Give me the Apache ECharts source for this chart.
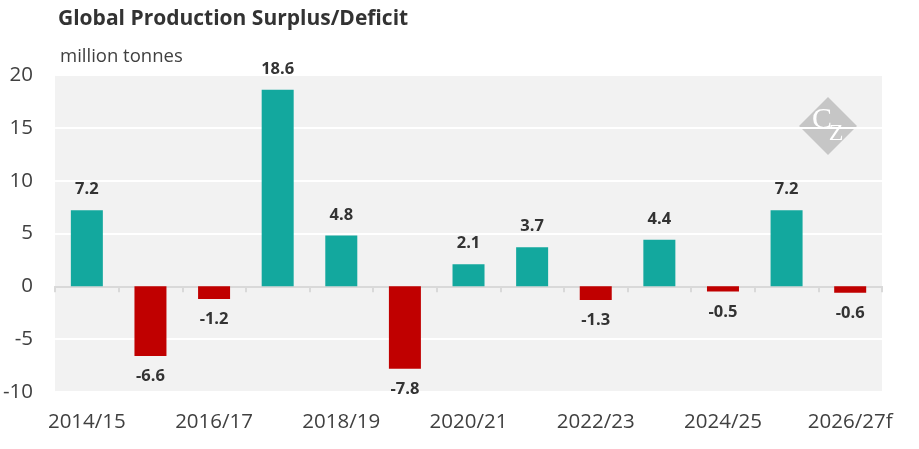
<!DOCTYPE html>
<html>
<head>
    <meta charset="utf-8">
    <title>Global Production Surplus/Deficit</title>
    <script src="https://cdn.jsdelivr.net/npm/echarts@6/dist/echarts.min.js"></script>
    <style>
        html, body { margin: 0; padding: 0; background: #fff; }
        #main { width: 919px; height: 449px; }
    </style>
</head>
<body>
    <div id="main"></div>
    <script>
        var seasons = ['2014/15', '2015/16', '2016/17', '2017/18', '2018/19', '2019/20', '2020/21',
                       '2021/22', '2022/23', '2023/24', '2024/25', '2025/26', '2026/27f'];
        var surplus = [7.2, -6.6, -1.2, 18.6, 4.8, -7.8, 2.1, 3.7, -1.3, 4.4, -0.5, 7.2, -0.6];
        var yTicks = [-10, -5, 0, 5, 10, 15, 20];

        var font = '"Open Sans", "Noto Sans", sans-serif';
        var myChart = echarts.init(document.getElementById('main'));

        var option = {
            animation: false,
            title: {
                text: 'Global Production Surplus/Deficit',
                left: 53, top: 4,
                textStyle: { fontFamily: font, fontSize: 21, fontWeight: 'bold', color: '#333' }
            },
            graphic: [
                {
                    type: 'text', left: 60, top: 47,
                    style: { text: 'million tonnes', fontFamily: font, fontSize: 18.5, fill: '#404040' }
                },
                {
                    type: 'rect', x: 828, y: 126, rotation: Math.PI / 4, z: 0,
                    shape: { x: -20.5, y: -20.5, width: 41, height: 41 },
                    style: { fill: '#c6c6c6' }
                },
                {
                    type: 'text', x: 822, y: 120, z: 1,
                    style: { text: 'C', fontFamily: '"Liberation Serif", serif', fontSize: 30,
                             fill: '#fff', align: 'center', verticalAlign: 'middle' }
                },
                {
                    type: 'text', x: 836, y: 134, z: 1,
                    style: { text: 'Z', fontFamily: '"Liberation Serif", serif', fontSize: 24,
                             fill: '#fff', align: 'center', verticalAlign: 'middle' }
                }
            ],
            grid: {
                left: 55, right: 37, top: 75, bottom: 57,
                show: true, backgroundColor: '#f2f2f2', borderWidth: 0
            },
            xAxis: [
                {
                    type: 'category', data: seasons,
                    axisLine: { onZero: true, lineStyle: { color: '#d9d9d9', width: 2 } },
                    axisTick: { show: true, length: 6, lineStyle: { color: '#d9d9d9', width: 2 } },
                    axisLabel: { show: false }
                },
                {
                    type: 'category', data: seasons, position: 'bottom',
                    axisLine: { show: false }, axisTick: { show: false },
                    axisLabel: { interval: 1, fontFamily: font, fontSize: 20.5, color: '#404040', margin: 20 }
                }
            ],
            yAxis: {
                type: 'value', min: yTicks[0], max: yTicks[yTicks.length - 1], interval: 5,
                axisLine: { show: false }, axisTick: { show: false },
                splitLine: { lineStyle: { color: '#ffffff', width: 2 } },
                axisLabel: { fontFamily: font, fontSize: 20.5, color: '#404040', margin: 22 }
            },
            series: [{
                type: 'bar',
                barWidth: 32,
                data: surplus.map(function (v) {
                    return {
                        value: v,
                        itemStyle: { color: v >= 0 ? '#13a89e' : '#c00000' },
                        label: { position: v >= 0 ? 'top' : 'bottom' }
                    };
                }),
                label: {
                    show: true, distance: 12,
                    fontFamily: font, fontSize: 16.5, fontWeight: 'bold', color: '#333',
                    formatter: function (p) { return p.value.toFixed(1); }
                }
            }]
        };

        myChart.setOption(option);
    </script>
</body>
</html>
